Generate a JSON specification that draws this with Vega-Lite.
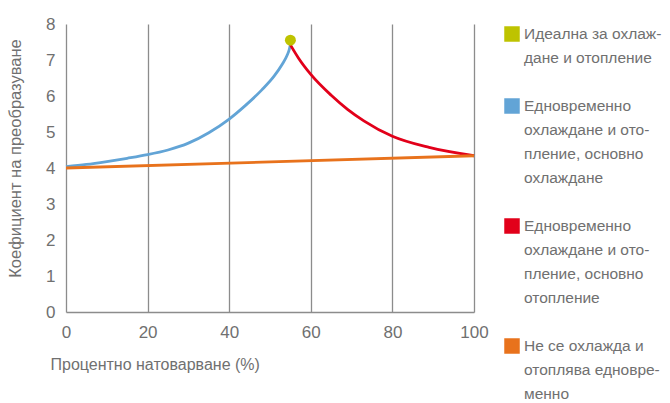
{
  "$schema": "https://vega.github.io/schema/vega-lite/v6.json",
  "width": 408,
  "height": 288,
  "autosize": "none",
  "padding": {"left": 66, "top": 24, "right": 196, "bottom": 91},
  "background": "white",
  "config": {
    "view": {"stroke": null},
    "font": "Liberation Sans Narrow, Arial Narrow, Liberation Sans, sans-serif"
  },
  "datasets": {
    "lines": [
      {"series": "Идеална за охлаждане и отопление", "x": 55, "y": 7.55},
      {"series": "Едновременно охлаждане и отопление, основно охлаждане", "x": 0, "y": 4.04},
      {"series": "Едновременно охлаждане и отопление, основно охлаждане", "x": 5, "y": 4.1},
      {"series": "Едновременно охлаждане и отопление, основно охлаждане", "x": 10, "y": 4.18},
      {"series": "Едновременно охлаждане и отопление, основно охлаждане", "x": 15, "y": 4.27},
      {"series": "Едновременно охлаждане и отопление, основно охлаждане", "x": 20, "y": 4.37},
      {"series": "Едновременно охлаждане и отопление, основно охлаждане", "x": 25, "y": 4.5},
      {"series": "Едновременно охлаждане и отопление, основно охлаждане", "x": 30, "y": 4.69},
      {"series": "Едновременно охлаждане и отопление, основно охлаждане", "x": 35, "y": 4.98},
      {"series": "Едновременно охлаждане и отопление, основно охлаждане", "x": 40, "y": 5.36},
      {"series": "Едновременно охлаждане и отопление, основно охлаждане", "x": 44, "y": 5.74},
      {"series": "Едновременно охлаждане и отопление, основно охлаждане", "x": 48, "y": 6.17},
      {"series": "Едновременно охлаждане и отопление, основно охлаждане", "x": 51, "y": 6.55},
      {"series": "Едновременно охлаждане и отопление, основно охлаждане", "x": 53, "y": 6.88},
      {"series": "Едновременно охлаждане и отопление, основно охлаждане", "x": 54.2, "y": 7.13},
      {"series": "Едновременно охлаждане и отопление, основно охлаждане", "x": 54.7, "y": 7.28},
      {"series": "Едновременно охлаждане и отопление, основно охлаждане", "x": 55, "y": 7.42},
      {"series": "Едновременно охлаждане и отопление, основно отопление", "x": 55, "y": 7.42},
      {"series": "Едновременно охлаждане и отопление, основно отопление", "x": 57, "y": 7.05},
      {"series": "Едновременно охлаждане и отопление, основно отопление", "x": 60, "y": 6.6},
      {"series": "Едновременно охлаждане и отопление, основно отопление", "x": 65, "y": 6.02},
      {"series": "Едновременно охлаждане и отопление, основно отопление", "x": 69, "y": 5.63},
      {"series": "Едновременно охлаждане и отопление, основно отопление", "x": 73, "y": 5.31},
      {"series": "Едновременно охлаждане и отопление, основно отопление", "x": 80, "y": 4.88},
      {"series": "Едновременно охлаждане и отопление, основно отопление", "x": 89, "y": 4.57},
      {"series": "Едновременно охлаждане и отопление, основно отопление", "x": 100, "y": 4.34},
      {"series": "Не се охлажда и отоплява едновременно", "x": 0, "y": 4.0},
      {"series": "Не се охлажда и отоплява едновременно", "x": 100, "y": 4.34}
    ]
  },
  "data": {"name": "lines"},
  "encoding": {
    "x": {
      "field": "x", "type": "quantitative",
      "scale": {"domain": [0, 100], "nice": false, "zero": false},
      "axis": {
        "values": [0, 20, 40, 60, 80, 100],
        "title": "Процентно натоварване (%)",
        "grid": true, "gridColor": "#8c8c8c", "gridWidth": 1.3,
        "domain": true, "domainColor": "#8c8c8c", "domainWidth": 1.3,
        "ticks": false,
        "labelFontSize": 17, "labelColor": "#707070", "labelPadding": 12,
        "labelFlush": false,
        "titleFontSize": 16, "titleFontWeight": "normal", "titleColor": "#707070",
        "titleAnchor": "start", "titleAlign": "left", "titleX": -16, "titleY": 52, "titleBaseline": "middle"
      }
    },
    "y": {
      "field": "y", "type": "quantitative",
      "scale": {"domain": [0, 8], "nice": false},
      "axis": {
        "values": [0, 1, 2, 3, 4, 5, 6, 7, 8],
        "title": "Коефициент на преобразуване",
        "grid": false, "domain": false, "ticks": false,
        "labelFontSize": 17, "labelColor": "#707070", "labelPadding": 11,
        "labelFlush": false,
        "titleFontSize": 16.5, "titleFontWeight": "normal", "titleColor": "#707070",
        "titleX": -51, "titleY": 134, "titleAlign": "center", "titleBaseline": "middle"
      }
    },
    "color": {
      "field": "series", "type": "nominal",
      "scale": {
        "domain": [
          "Идеална за охлаждане и отопление",
          "Едновременно охлаждане и отопление, основно охлаждане",
          "Едновременно охлаждане и отопление, основно отопление",
          "Не се охлажда и отоплява едновременно"
        ],
        "range": ["#bec300", "#62a4d6", "#e2001a", "#e8721c"]
      },
      "legend": {
        "title": null,
        "orient": "none",
        "legendX": 438,
        "legendY": 2,
        "padding": 0,
        "symbolType": "square",
        "symbolSize": 240,
        "symbolStrokeWidth": 0,
        "labelFontSize": 15.5,
        "labelColor": "#707070",
        "labelOffset": 4,
        "labelLimit": 200,
        "labelBaseline": "middle",
        "rowPadding": 31,
        "labelExpr": "datum.index == 0 ? ['Идеална за охлаж-', 'дане и отопление'] : datum.index == 1 ? ['Едновременно', 'охлаждане и ото-', 'пление, основно', 'охлаждане'] : datum.index == 2 ? ['Едновременно', 'охлаждане и ото-', 'пление, основно', 'отопление'] : ['Не се охлажда и', 'отоплява едновре-', 'менно']",
        "encode": {
          "symbols": {"update": {"fill": {"scale": "color", "field": "value"}, "strokeWidth": {"value": 0}}},
          "labels": {"update": {"lineHeight": {"value": 24}}}
        }
      }
    }
  },
  "layer": [
    {
      "transform": [{"filter": "datum.series != 'Идеална за охлаждане и отопление'"}],
      "mark": {"type": "line", "interpolate": "monotone", "strokeWidth": 2.8}
    },
    {
      "transform": [{"filter": "datum.series == 'Идеална за охлаждане и отопление'"}],
      "mark": {"type": "point", "filled": true, "size": 120, "opacity": 1, "shape": "circle"}
    }
  ]
}
